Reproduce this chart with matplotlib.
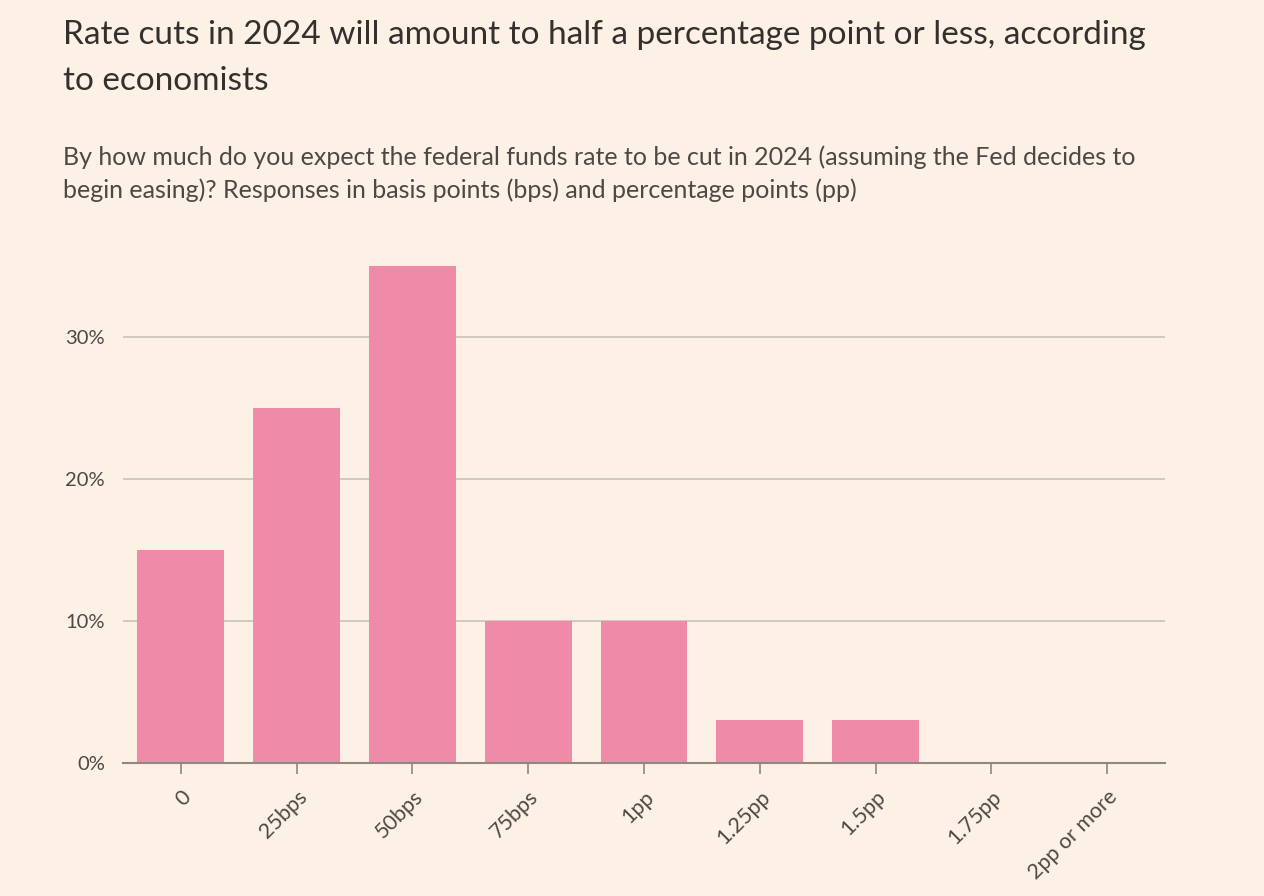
import matplotlib
matplotlib.use('Agg')
import matplotlib.pyplot as plt
import numpy as np

# Données du graphique
categories = ['0', '25bps', '50bps', '75bps', '1pp', '1.25pp', '1.5pp', '1.75pp', '2pp or more']
shares = [15, 25, 35, 10, 10, 3, 3, 0, 0]
yticks = [0, 10, 20, 30]
ytick_labels = ['0%', '10%', '20%', '30%']

title = "Rate cuts in 2024 will amount to half a percentage point or less, according\nto economists"
subtitle = ("By how much do you expect the federal funds rate to be cut in 2024 (assuming the Fed decides to\n"
            "begin easing)? Responses in basis points (bps) and percentage points (pp)")

BG = '#FDF1E5'
BAR = '#EF8AA8'
TEXT = '#33302E'
GRID = '#CCC1B7'
AXIS = '#8F8780'

plt.rcParams['font.family'] = ['Lato', 'DejaVu Sans']

fig = plt.figure(figsize=(12.64, 8.96), dpi=100, facecolor=BG)
ax = fig.add_axes([0.0973, 0.1484, 0.8244, 0.5703], facecolor=BG)

x = np.arange(len(categories))
ax.bar(x, shares, width=0.75, color=BAR, zorder=2)

ax.set_xlim(-0.5, len(categories) - 0.5)
ax.set_ylim(0, 36)
ax.set_yticks(yticks)
ax.set_yticklabels(ytick_labels, fontsize=14.5, color='#4E4845')
ax.tick_params(axis='y', length=0, pad=13)
ax.grid(axis='y', color=GRID, linewidth=1.2, zorder=1)

ax.set_xticks(x)
ax.set_xticklabels(categories, fontsize=15.5, color='#4E4845', rotation=45,
                   ha='right', rotation_mode='anchor')
ax.tick_params(axis='x', length=8, width=1.2, color=AXIS, pad=9)

for side in ['top', 'right', 'left']:
    ax.spines[side].set_visible(False)
ax.spines['bottom'].set_color(AXIS)
ax.spines['bottom'].set_linewidth(1.5)
ax.spines['bottom'].set_zorder(3)

fig.text(0.05, 0.978, title, fontsize=24, color=TEXT, va='top', ha='left',
         linespacing=1.68)
fig.text(0.05, 0.838, subtitle, fontsize=18, color='#4E4845', va='top', ha='left',
         linespacing=1.5)

plt.savefig('out.png', dpi=100, facecolor=BG)
plt.close()
